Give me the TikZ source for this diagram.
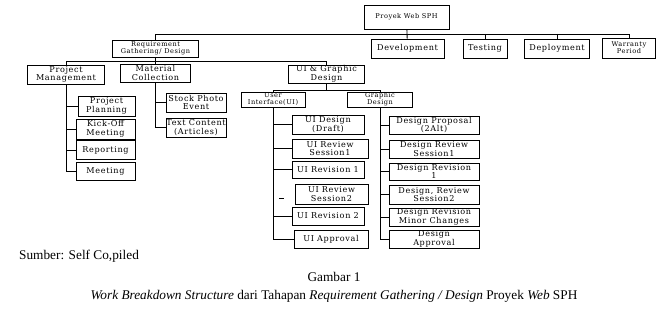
\documentclass[tikz,border=0pt]{standalone}
\usepackage{fontspec}
\setmainfont{Liberation Serif}
\newfontfamily\wbsfont[LetterSpace=8]{DejaVu Serif}
\usetikzlibrary{positioning}

\begin{document}
\begin{tikzpicture}[x=1pt, y=-1pt,
    wbs/.style={rectangle, draw=black, line width=0.95pt, inner sep=0.3pt, align=center, minimum height=19, font=\wbsfont\fontsize{8.1}{8.4}\selectfont},
    wbssmall/.style={wbs, font=\wbsfont\fontsize{6.6}{7}\selectfont},
    link/.style={draw, line width=0.85pt}]
    \useasboundingbox (0,0) rectangle (667,313);

    \node [wbssmall, minimum width=85, minimum height=24] (root) at (406.5,17) {Proyek Web SPH};
    \node [wbssmall, minimum width=86, minimum height=17] (req) at (155.5,48.5) {Requirement\\Gathering/ Design};
    \node [wbs, minimum width=73] (dev) at (407.5,48.5) {Development};
    \node [wbs, minimum width=44] (test) at (485,48.5) {Testing};
    \node [wbs, minimum width=65] (depl) at (557,48.5) {Deployment};
    \node [wbssmall, minimum width=53, minimum height=20] (warr) at (629,48) {Warranty\\Period};

    \node [wbs, minimum width=77] (pm) at (66,74.5) {Project\\Management};
    \node [wbs, minimum width=70, minimum height=18] (mc) at (155.5,73) {Material\\Collection};
    \node [wbs, minimum width=76, minimum height=18] (uig) at (326.5,74) {UI \& Graphic\\Design};

    \node [wbssmall, minimum width=64, minimum height=15] (ui) at (273,99.5) {User\\Interface(UI)};
    \node [wbssmall, minimum width=65, minimum height=15] (gd) at (380,99.5) {Graphic\\Design};

    \node [wbs, minimum width=57, minimum height=20] (plan) at (106.5,106) {Project\\Planning};
    \node [wbs, minimum width=59, minimum height=20] (kick) at (105.5,129) {Kick-Off\\Meeting};
    \node [wbs, minimum width=59] (report) at (105.5,150) {Reporting};
    \node [wbs, minimum width=59, minimum height=18] (meet) at (105.5,171.5) {Meeting};

    \node [wbs, minimum width=60] (photo) at (196,102.5) {Stock Photo\\Event};
    \node [wbs, minimum width=60] (content) at (196,127.5) {Text Content\\(Articles)};

    \node [wbs, minimum width=72] (uidraft) at (328,124.5) {UI Design\\(Draft)};
    \node [wbs, minimum width=76] (uirev1) at (330,148.5) {UI Review\\Session1};
    \node [wbs, minimum width=72, minimum height=17] (uirevis1) at (328,169.5) {UI Revision 1};
    \node [wbs, minimum width=73, minimum height=20] (uirev2) at (331.5,194) {UI Review\\Session2};
    \node [wbs, minimum width=72, minimum height=18] (uirevis2) at (328,216) {UI Revision 2};
    \node [wbs, minimum width=74, minimum height=18] (uiappr) at (331,239) {UI Approval};

    \node [wbs, minimum width=90, minimum height=18] (gdprop) at (434,125) {Design Proposal\\(2Alt)};
    \node [wbs, minimum width=90, minimum height=18] (gdrev1) at (434,149) {Design Review\\Session1};
    \node [wbs, minimum width=90, minimum height=17] (gdrevis1) at (434,171.5) {Design Revision\\1};
    \node [wbs, minimum width=90] (gdrev2) at (434,194.5) {Design, Review\\Session2};
    \node [wbs, minimum width=90, minimum height=18] (gdminor) at (434,217) {Design Revision\\Minor Changes};
    \node [wbs, minimum width=90, minimum height=18] (gdappr) at (434,239) {Design\\Approval};

    \coordinate (bustop) at (0,34);
    \coordinate (busreq) at (0,61);
    \coordinate (busuig) at (0,90);
    \coordinate (stray) at (279,198);

    \path [link] (req.north) |- (warr.north |- bustop) -- (warr.north);
    \path [link] (root) -- (dev);
    \foreach \n in {test, depl}
        \path [link] (\n.north |- bustop) -- (\n.north);

    \path [link] (req) -- (req.south |- busreq);
    \path [link] (pm.north) |- (uig.north |- busreq) -- (uig.north);
    \path [link] (mc.north |- busreq) -- (mc.north);

    \path [link] (uig) -- (uig.south |- busuig);
    \path [link] (ui.north) |- (gd.north |- busuig) -- (gd.north);

    \path [link] (pm.south) |- (meet.west);
    \foreach \n in {plan, kick, report}
        \path [link] (pm.south |- \n.west) -- (\n.west);

    \path [link] (mc.south) |- (content.west);
    \path [link] (mc.south |- photo.west) -- (photo.west);

    \path [link] (ui.south) |- (uiappr.west);
    \foreach \n in {uidraft, uirev1, uirevis1, uirevis2}
        \path [link] (ui.south |- \n.west) -- (\n.west);
    \path [link] (stray) -- ++(5,0);

    \path [link] (gd.south) |- (gdappr.west);
    \foreach \n in {gdprop, gdrev1, gdrevis1, gdrev2, gdminor}
        \path [link] (gd.south |- \n.west) -- (\n.west);

    \node [anchor=west, inner sep=0pt, font=\fontsize{13.3}{15}\selectfont] (source) at (19,256) {Sumber: Self Co,piled};
    \node [font=\fontsize{13.3}{15}\selectfont] (fig) at (334,277) {Gambar 1};
    \node [font=\fontsize{13.3}{15}\selectfont] (caption) at (334,296) {\textit{Work Breakdown Structure} dari Tahapan \textit{Requirement Gathering / Design} Proyek \textit{Web} SPH};
\end{tikzpicture}
\end{document}
